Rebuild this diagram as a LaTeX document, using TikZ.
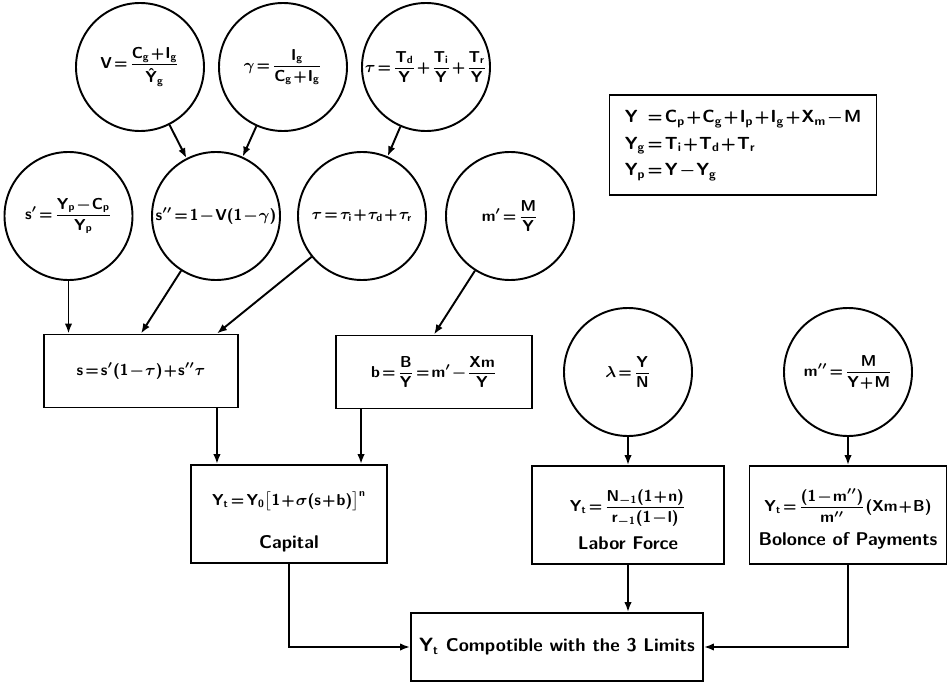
\documentclass[tikz,border=0pt]{standalone}
\usepackage{amsmath}
\usetikzlibrary{arrows.meta}
% sans letters and digits in math
\DeclareSymbolFont{operators}{OT1}{cmss}{m}{n}
\SetSymbolFont{operators}{bold}{OT1}{cmss}{bx}{n}
\makeatletter
\count@=`A
\loop \mathcode\count@=\numexpr"7000+\count@\relax
\ifnum\count@<`Z \advance\count@\@ne \repeat
\count@=`a
\loop \mathcode\count@=\numexpr"7000+\count@\relax
\ifnum\count@<`z \advance\count@\@ne \repeat
\makeatother
\medmuskip=1mu plus 1mu
\thickmuskip=2mu plus 1mu
\newcommand{\pairtext}[4]{\parbox[c][1.96cm][t]{3.8cm}{\centering\rule{0pt}{#1}#2\\[#3]#4}}
\tikzset{
  ball/.style={draw,circle,line width=1.1pt,minimum size=2.56cm,inner sep=-8pt,
    font=\sffamily\bfseries\boldmath\fontsize{9}{11}\selectfont},
  blk/.style={draw,rectangle,line width=1.1pt,minimum height=1.46cm,align=center,inner sep=2pt},
  arr/.style={line width=1.1pt,-{Latex[length=2mm,width=1.5mm]}},
  link/.style={line width=1.1pt}
}
\begin{document}
\begin{tikzpicture}[font={\sffamily\bfseries\boldmath\fontsize{10.5}{12.5}\selectfont}]
\useasboundingbox (0,0) rectangle (18.96,13.64);
% circles
\node[ball] (V) at (2.80,12.30) {$V=\dfrac{C_g+I_g}{\rule{0pt}{9pt}\hat{Y}_g}$};
\node[ball] (gam) at (5.66,12.30) {$\gamma=\dfrac{I_g}{C_g+I_g}$};
\node[ball] (tauT) at (8.52,12.30) {$\tau=\dfrac{T_d}{Y}+\dfrac{T_i}{Y}+\dfrac{T_r}{Y}$};
\node[ball] (sp) at (1.37,9.32) {$s'=\dfrac{Y_p-C_p}{Y_p}$};
\node[ball] (spp) at (4.32,9.32) {$s''=1-V(1-\gamma)$};
\node[ball] (tauS) at (7.24,9.32) {$\tau=\tau_i+\tau_d+\tau_r$};
\node[ball] (mp) at (10.20,9.32) {$m'=\dfrac{M}{Y}$};
\node[ball] (lam) at (12.56,6.20) {$\lambda=\dfrac{Y}{N}$};
\node[ball] (mpp) at (16.96,6.20) {$m''=\dfrac{M}{Y+M}$};
% boxes
\node[blk,minimum width=3.88cm] (sbox) at (2.82,6.22) {\small$s=s'(1-\tau)+s''\tau$};
\node[blk,minimum width=3.92cm] (bbox) at (8.68,6.20) {\small$b=\dfrac{B}{Y}=m'-\dfrac{Xm}{Y}$};
\node[blk,minimum width=3.92cm,inner sep=0pt] (cap) at (5.78,3.36)
  {\pairtext{23pt}{{\small$Y_t=Y_0\bigl[1+\sigma(s+b)\bigr]^n$}}{12pt}{Capital}};
\node[blk,minimum width=3.84cm,inner sep=0pt] (lab) at (12.56,3.34)
  {\pairtext{26pt}{{\small$Y_t=\dfrac{N_{-1}(1+n)}{r_{-1}(1-l)}$}}{5pt}{Labor Force}};
\node[blk,minimum width=3.94cm,inner sep=0pt] (bop) at (16.96,3.34)
  {\pairtext{26pt}{{\small$Y_t=\dfrac{(1-m'')}{m''}(Xm+B)$}}{5pt}{Bolonce of Payments}};
\node[blk,minimum width=5.84cm,minimum height=1.36cm] (fin) at (11.14,0.70)
  {$Y_t$ Compotible with the 3 Limits};
\node[blk,minimum width=5.34cm,minimum height=2.0cm,align=left,font=\sffamily\bfseries\boldmath\fontsize{10}{12}\selectfont] (defs) at (14.86,10.74)
  {\begin{tabular}{@{}l@{}l@{}}
   $Y$ & ${}=C_p+C_g+I_p+I_g+X_m-M$\\[3pt]
   $Y_g$ & ${}=T_i+T_d+T_r$\\[3pt]
   $Y_p$ & ${}=Y-Y_g$
   \end{tabular}};
% arrows
\draw[arr] (V) -- (spp);
\draw[arr] (gam) -- (spp);
\draw[arr] (tauT) -- (tauS);
\draw[arr] (sp) -- (sp |- sbox.north);
\draw[arr] (spp) -- (sbox.north);
\draw[arr] (tauS) -- ([xshift=-0.44cm]sbox.north east);
\draw[arr] (mp) -- (bbox.north);
\draw[arr] ([xshift=-0.44cm]sbox.south east) -- ([xshift=-0.44cm]sbox.south east |- cap.north);
\draw[arr] ([xshift=0.52cm]bbox.south west) -- ([xshift=0.52cm]bbox.south west |- cap.north);
\draw[arr] (lam) -- (lab);
\draw[arr] (mpp) -- (bop);
\draw[arr] (cap.south) |- (fin.west);
\draw[arr] (lab.south) -- (lab.south |- fin.north);
\draw[arr] (bop.south) |- (fin.east);
\end{tikzpicture}
\end{document}
